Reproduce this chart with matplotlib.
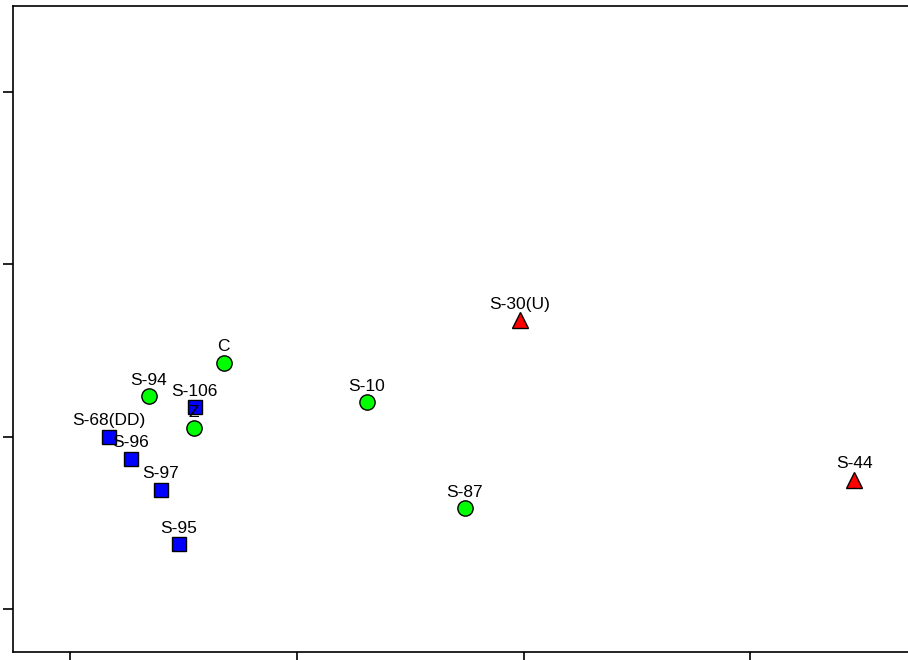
import matplotlib
matplotlib.use("Agg")
import matplotlib.pyplot as plt

# group 1: squares (blue)
sq_labels = ["S-68(DD)", "S-96", "S-97", "S-95", "S-106"]
sq_x = [0.172, 0.269, 0.401, 0.481, 0.551]
sq_y = [1.00, 0.871, 0.691, 0.377, 1.172]

# group 2: circles (green)
ci_labels = ["Z", "S-94", "C", "S-10", "S-87"]
ci_x = [0.547, 0.348, 0.679, 1.31, 1.742]
ci_y = [1.05, 1.236, 1.428, 1.201, 0.586]

# group 3: triangles (red)
tr_labels = ["S-30(U)", "S-44"]
tr_x = [1.985, 3.458]
tr_y = [1.677, 0.749]

x_ticks = [0, 1, 2, 3]
y_ticks = [0, 1, 2, 3]

plt.rcParams['font.family'] = ['Liberation Sans', 'DejaVu Sans']

fig = plt.figure(figsize=(9.08, 6.60), dpi=100)
# right spine falls outside the picture, as in the original
ax = fig.add_axes([13/908, 8/660, 900/908, 646/660])

ax.plot(sq_x, sq_y, 's', color='#0000ff', mec='black', mew=1, ms=10, ls='none')
ax.plot(ci_x, ci_y, 'o', color='#00ff00', mec='black', mew=1, ms=11, ls='none')
ax.plot(tr_x, tr_y, '^', color='#ff0000', mec='black', mew=1, ms=11, ls='none')

for lab, x, y in zip(sq_labels + ci_labels + tr_labels, sq_x + ci_x + tr_x, sq_y + ci_y + tr_y):
    ax.annotate(lab, (x, y), xytext=(0, 11.5), textcoords='offset points',
                ha='center', va='center', fontsize=12.5)

ax.set_xlim(-0.25, 3.7165)
ax.set_ylim(-0.25, 3.5)
ax.set_xticks(x_ticks)
ax.set_yticks(y_ticks)
ax.set_xticklabels([])
ax.set_yticklabels([])
ax.tick_params(direction='out', length=7, width=1.2, color='black')
for s in ax.spines.values():
    s.set_linewidth(1.2)

fig.savefig("out.png", dpi=100)
